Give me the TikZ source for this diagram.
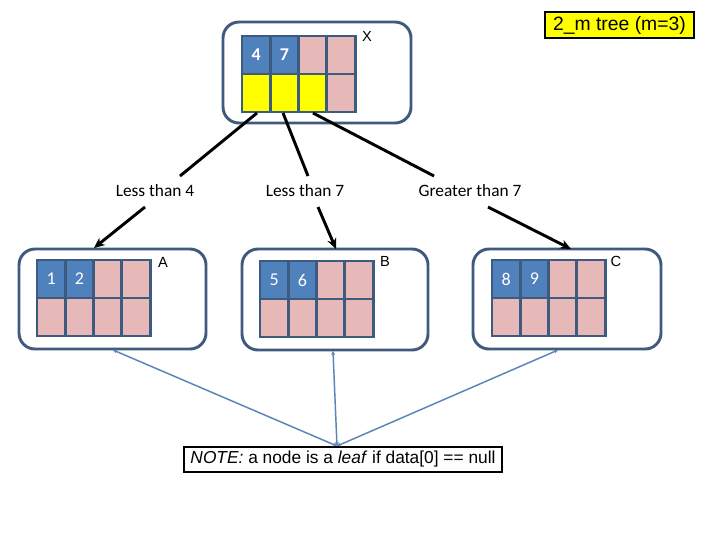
\documentclass[tikz,border=0pt]{standalone}
\usepackage{fontspec}
\setmainfont{Carlito}
\newfontfamily\comicf{Liberation Sans}
\usetikzlibrary{arrows.meta}
\definecolor{cblue}{HTML}{4F81BD}
\definecolor{cpink}{HTML}{E6B9B8}
\definecolor{cyel}{HTML}{FFFF00}
\definecolor{gridc}{HTML}{3D5A7F}
\definecolor{boxc}{HTML}{3F5A7D}
\definecolor{linkc}{HTML}{5B84B8}
\newcommand\mgrid[6]{%
  \node[cell,fill=cblue] (#1a) at ({#2+14.1},{#3+19}) {#4};
  \node[cell,fill=cblue] (#1b) at ({#2+42.4},{#3+19}) {#5};
  \node[cell,fill=cpink] (#1c) at ({#2+70.6},{#3+19}) {};
  \node[cell,fill=cpink] (#1d) at ({#2+98.9},{#3+19}) {};
  \node[cell,fill=#6] (#1e) at ({#2+14.1},{#3+57}) {};
  \node[cell,fill=#6] (#1f) at ({#2+42.4},{#3+57}) {};
  \node[cell,fill=#6] (#1g) at ({#2+70.6},{#3+57}) {};
  \node[cell,fill=cpink] (#1h) at ({#2+98.9},{#3+57}) {};
}
\tikzset{
  cell/.style={draw=gridc, line width=2.2pt, minimum width=21.2pt, minimum height=28.5pt, inner sep=0pt, font=\fontsize{13.5}{15}\selectfont, text=white},
  rbox/.style={draw=boxc, line width=2.2pt, rounded corners=12pt, inner sep=0pt},
  lbl/.style={font=\fontsize{13}{15}\selectfont, inner sep=1pt},
  tag/.style={font=\comicf\fontsize{11}{13}\selectfont, inner sep=0pt},
  blk/.style={black, line width=2.2pt},
  arr/.style={black, line width=2.2pt, -{Stealth[length=8pt,width=7pt]}},
  lnk/.style={linkc, line width=1.1pt, {Stealth[length=3pt,width=3pt]}-{Stealth[length=3pt,width=3pt]}}
}
\begin{document}
\begin{tikzpicture}[x=0.75pt,y=-0.75pt]
\useasboundingbox[fill=white] (0,0) rectangle (720,540);
% rounded containers
\node[rbox, minimum width=141pt, minimum height=75.75pt] (X) at (317,72.5) {};
\node[rbox, minimum width=140.25pt, minimum height=75pt] (A) at (112.5,299) {};
\node[rbox, minimum width=139.5pt, minimum height=75.75pt] (B) at (335,299.5) {};
\node[rbox, minimum width=141pt, minimum height=75pt] (C) at (567,299) {};
% grids
\mgrid{x}{242}{36}{\textbf{4}}{\textbf{7}}{cyel}
\mgrid{a}{37}{260}{1}{2}{cpink}
\mgrid{b}{260}{261}{5}{6}{cpink}
\mgrid{c}{492}{260}{8}{9}{cpink}
% tags
\node[tag] (tx) at (367,36) {X};
\node[tag] (ta) at (163,262) {A};
\node[tag] (tb) at (385,261) {B};
\node[tag] (tc) at (616,261) {C};
% title
\node[draw=black, fill=cyel, line width=0.8pt, minimum width=111.75pt, minimum height=19.5pt, inner sep=0pt, font=\comicf\fontsize{14.5}{16}\selectfont] (title) at (619.5,25) {2\_m tree (m=3)};
% branch labels
\node[lbl] (l1) at (155,191) {Less than 4};
\node[lbl] (l2) at (305,191) {Less than 7};
\node[lbl] (l3) at (470,191) {Greater than 7};
% connector coordinates
\coordinate (s1) at (257,113);
\coordinate (s2) at (283,113);
\coordinate (s3) at (313,113);
\coordinate (e1) at (180,176);
\coordinate (e2) at (308,176);
\coordinate (e3) at (434,176);
\coordinate (f1) at (145,207);
\coordinate (f2) at (318,207);
\coordinate (f3) at (488,207);
\coordinate (h1) at (94,248);
\coordinate (h2) at (336,249);
\coordinate (h3) at (571,249);
\draw[blk] (s1) -- (e1);
\draw[blk] (s2) -- (e2);
\draw[blk] (s3) -- (e3);
\draw[arr] (f1) -- (h1);
\draw[arr] (f2) -- (h2);
\draw[arr] (f3) -- (h3);
% note
\node[draw=black, fill=white, line width=0.8pt, minimum width=238.5pt, minimum height=18.75pt, inner sep=0pt, font=\comicf\fontsize{13}{15}\selectfont] (note) at (343,459.5) {\textit{NOTE:} a node is a \textit{leaf} if data[0] == null};
\coordinate (n0) at (337,446);
\coordinate (b1) at (113,350);
\coordinate (b2) at (333,351);
\coordinate (b3) at (558,350);
\draw[lnk] (n0) -- (b1);
\draw[lnk] (n0) -- (b2);
\draw[lnk] (n0) -- (b3);
\end{tikzpicture}
\end{document}
